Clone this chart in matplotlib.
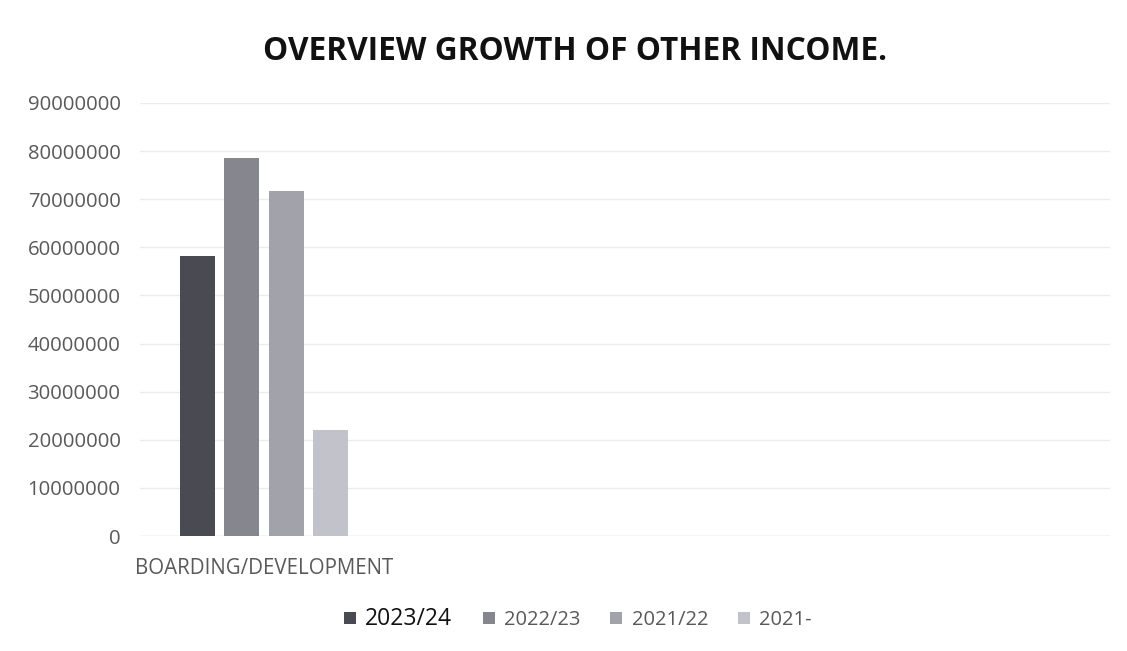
import matplotlib
matplotlib.use("Agg")
import matplotlib.pyplot as plt
from matplotlib.patches import Patch
from matplotlib.ticker import FuncFormatter

categories = ["BOARDING/DEVELOPMENT"]
series_names = ["2023/24", "2022/23", "2021/22", "2021-"]
values = {
    "2023/24": [58200000],
    "2022/23": [78600000],
    "2021/22": [71800000],
    "2021-": [22000000],
}
y_ticks = [0, 10000000, 20000000, 30000000, 40000000, 50000000,
           60000000, 70000000, 80000000, 90000000]
colors = ["#4a4a52", "#86868e", "#a2a2aa", "#c2c2ca"]

plt.rcParams['font.family'] = ['Open Sans', 'DejaVu Sans']

W, H = 1127, 651
fig = plt.figure(figsize=(W / 100, H / 100), dpi=100)
ax = fig.add_axes([140 / W, (H - 536) / H, (1110 - 140) / W, (536 - 103) / H])

step = 0.2
width = 0.158
for i, name in enumerate(series_names):
    xs = [c + (i - 1.5) * step for c in range(len(categories))]
    ax.bar(xs, values[name], width=width, color=colors[i], label=name, zorder=2)

# the category occupies the left part of the plot area
left = -0.56
ax.set_xlim(left, left + 970 / 221.5)
ax.set_ylim(0, 90000000)
ax.set_yticks(y_ticks)
ax.yaxis.set_major_formatter(FuncFormatter(lambda v, p: f"{int(v)}"))
ax.set_xticks(range(len(categories)))
ax.set_xticklabels(categories)
ax.tick_params(axis='y', length=0, labelsize=14.6, labelcolor="#595959", pad=14)
ax.tick_params(axis='x', length=0, labelsize=14.8, labelcolor="#595959", pad=16)
ax.grid(axis='y', color="#ececec", linewidth=1, zorder=0)
for s in ax.spines.values():
    s.set_visible(False)
ax.axhline(0, color="#e0e0e0", linewidth=1, zorder=1)

fig.text(575 / W, (H - 52) / H, "OVERVIEW GROWTH OF OTHER INCOME.",
         ha='center', va='center', fontsize=22.8, fontweight='bold', color="#111111")

handles = [Patch(facecolor=colors[i], label=series_names[i]) for i in range(4)]
leg = fig.legend(handles=handles, loc='center', bbox_to_anchor=(578 / W, (H - 619) / H),
                 ncol=4, frameon=False, fontsize=14.5, handlelength=0.6, handleheight=0.6,
                 handletextpad=0.45, columnspacing=1.5)
for i, t in enumerate(leg.get_texts()):
    if i == 0:
        t.set_fontsize(16.5)
        t.set_color("#111111")
    else:
        t.set_color("#595959")

fig.savefig("out.png", dpi=100)
